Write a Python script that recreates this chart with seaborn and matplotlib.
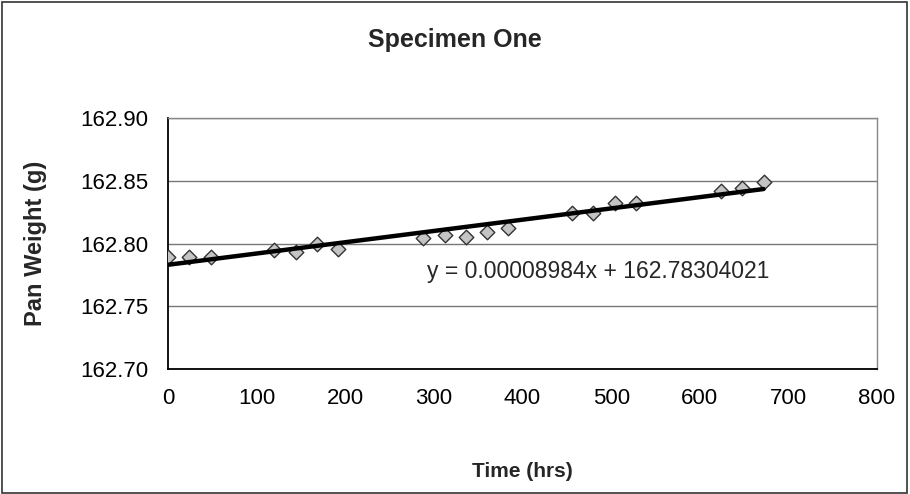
import numpy as np
import pandas as pd
import seaborn as sns
import matplotlib.pyplot as plt
from matplotlib.patches import Rectangle

# readings
time_hrs = [0, 24, 48, 120, 144, 168, 192, 288, 312, 336, 360, 384,
            456, 480, 504, 528, 624, 648, 672]
pan_weight = [162.789, 162.789, 162.789, 162.795, 162.793, 162.800, 162.796,
              162.804, 162.807, 162.805, 162.809, 162.812,
              162.824, 162.824, 162.832, 162.832, 162.842, 162.844, 162.849]

# trendline as printed on the chart
slope = 0.00008984
intercept = 162.78304021
x_ticks = [0, 100, 200, 300, 400, 500, 600, 700, 800]
y_ticks = [162.70, 162.75, 162.80, 162.85, 162.90]

df = pd.DataFrame({"Time (hrs)": time_hrs, "Pan Weight (g)": pan_weight})
trend = pd.DataFrame({"x": [min(time_hrs), max(time_hrs)]})
trend["y"] = intercept + slope * trend["x"]

sns.set_theme(style="white")
plt.rcParams["font.family"] = ["Liberation Sans", "DejaVu Sans"]

fig = plt.figure(figsize=(9.1, 4.94), dpi=100)
ax = fig.add_axes([168 / 910, 1 - 369 / 494, 709 / 910, 251 / 494])

sns.scatterplot(data=df, x="Time (hrs)", y="Pan Weight (g)", marker="D", s=55,
                color="#c4c4c4", edgecolor="#333333", linewidth=1.0, ax=ax, zorder=3)
sns.lineplot(data=trend, x="x", y="y", color="black", linewidth=3.2, ax=ax, zorder=4)

ax.set_xlim(0, 800)
ax.set_ylim(162.70, 162.90)
ax.set_xticks(x_ticks)
ax.set_yticks(y_ticks)
ax.set_yticklabels([f"{v:.2f}" for v in y_ticks])
ax.tick_params(axis="both", length=0, labelsize=16, colors="black")
ax.tick_params(axis="x", pad=14)
ax.tick_params(axis="y", pad=14)
ax.yaxis.grid(True, color="#777777", linewidth=1)
ax.xaxis.grid(False)

for side in ["left", "bottom"]:
    ax.spines[side].set_color("black")
    ax.spines[side].set_linewidth(1.3)
for side in ["top", "right"]:
    ax.spines[side].set_color("#888888")
    ax.spines[side].set_linewidth(1)

ax.set_xlabel("Time (hrs)", fontsize=15, fontweight="bold")
ax.set_ylabel("Pan Weight (g)", fontsize=17, fontweight="bold")
ax.xaxis.set_label_coords(0.5, -0.37)
ax.yaxis.set_label_coords(-0.17, 0.5)

ax.text(292, 162.7773, "y = 0.00008984x + 162.78304021", fontsize=16.5,
        ha="left", va="center")

fig.suptitle("Specimen One", fontsize=18, fontweight="bold", y=1 - 40 / 494, va="center")

fig.patches.append(Rectangle((0.002, 0.003), 0.995, 0.993, transform=fig.transFigure,
                             fill=False, edgecolor="#333333", linewidth=1.2))

fig.savefig("out.png", dpi=100)
